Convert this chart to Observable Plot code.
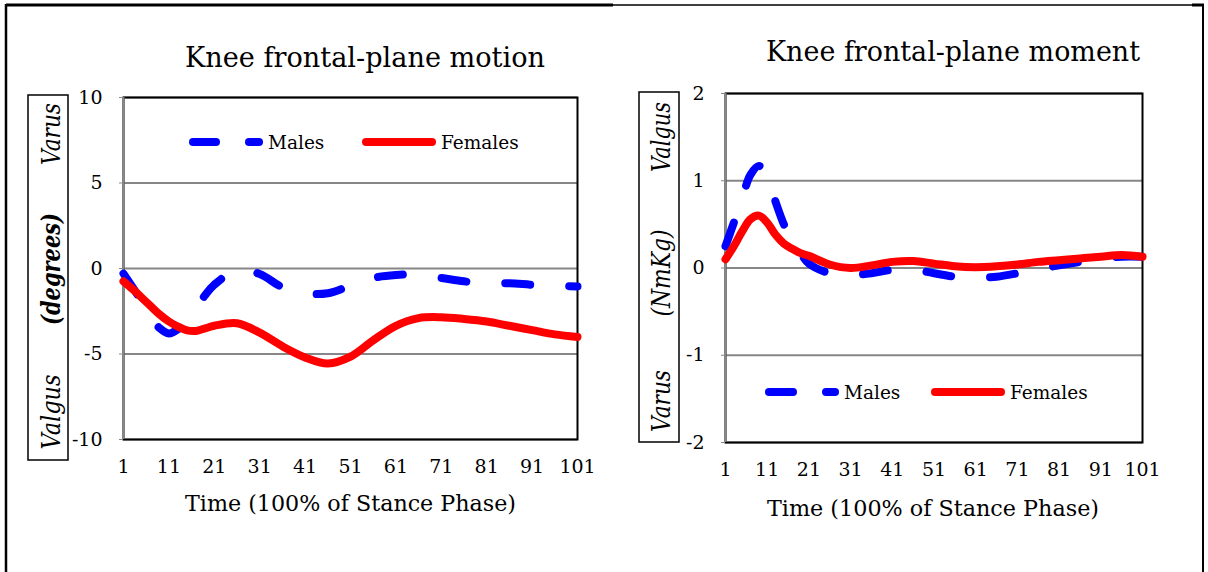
<!DOCTYPE html>
<html><head><meta charset="utf-8">
<script src="https://cdn.jsdelivr.net/npm/d3@7"></script>
<script src="https://cdn.jsdelivr.net/npm/@observablehq/plot@0.6"></script>
<style>
html,body{margin:0;padding:0;background:#fff;}
#wrap{position:relative;width:1208px;height:572px;overflow:hidden;background:#fff;}
#wrap svg{position:absolute;}
</style></head><body><div id="wrap"></div>
<script>
// ---- data ----
const stance = [1,3,5,7,9,11,13,15,17,19,21,26,31,36,41,46,51,56,61,66,71,76,81,86,91,96,101];
const motionMales   = [-0.3,-1.1,-1.9,-2.8,-3.5,-3.8,-3.55,-3.0,-2.3,-1.55,-0.95,-0.1,-0.32,-1.1,-1.45,-1.45,-1.0,-0.55,-0.38,-0.36,-0.55,-0.75,-0.88,-0.86,-0.95,-1.0,-1.05];
const motionFemales = [-0.75,-1.2,-1.7,-2.2,-2.7,-3.1,-3.4,-3.62,-3.65,-3.5,-3.35,-3.2,-3.75,-4.55,-5.2,-5.55,-5.15,-4.2,-3.35,-2.9,-2.85,-2.95,-3.1,-3.35,-3.6,-3.85,-4.0];
const momentMales   = [0.25,0.52,0.8,1.07,1.17,1.05,0.76,0.5,0.32,0.17,0.05,-0.06,-0.08,-0.06,-0.02,-0.02,-0.06,-0.1,-0.11,-0.1,-0.06,-0.01,0.03,0.07,0.11,0.13,0.13];
const momentFemales = [0.1,0.25,0.42,0.56,0.6,0.52,0.38,0.28,0.22,0.17,0.14,0.04,0.0,0.03,0.07,0.08,0.05,0.02,0.01,0.02,0.04,0.07,0.09,0.11,0.13,0.15,0.13];
const xTicks = [1,11,21,31,41,51,61,71,81,91,101];
const motionTicks = [-10,-5,0,5,10];
const momentTicks = [-2,-1,0,1,2];
const seriesNames = ["Males","Females"];
const seriesColors = ["#0000ff","#ff0000"];
const titles = ["Knee frontal-plane motion","Knee frontal-plane moment"];
const xTitle = "Time (100% of Stance Phase)";
const motionLabels = ["Varus","(degrees)","Valgus"];
const momentLabels = ["Valgus","(NmKg)","Varus"];

const FONT = "DejaVu Serif";
const wrap = document.getElementById("wrap");

function rows(vals){ return stance.map((t,i)=>({t, v: vals[i]})); }

function makePlot(o){
  const svg = Plot.plot({
    width: o.width, height: o.height,
    marginLeft: o.ml, marginTop: o.mt, marginRight: o.mr, marginBottom: o.mb,
    style: {fontFamily: FONT, fontSize: "19px", color: "#000", background: "transparent", overflow: "visible"},
    x: {domain: [xTicks[0], xTicks[xTicks.length-1]]},
    y: {domain: [o.ticks[0], o.ticks[o.ticks.length-1]]},
    marks: [
      Plot.ruleY(o.ticks, {stroke: "#878787", strokeWidth: 2}),
      Plot.frame({stroke: "#000", strokeWidth: 2}),
      Plot.ruleX([xTicks[0]], {stroke: "#878787", strokeWidth: 2}),
      Plot.axisX(xTicks, {tickSize: 0, tickPadding: 20, label: null, tickFormat: d => String(d)}),
      Plot.axisY(o.ticks, {tickSize: 4, tickPadding: 17, stroke: "#878787", label: null, tickFormat: d => String(d)}),
      Plot.line(rows(o.males), {x: "t", y: "v", stroke: seriesColors[0], strokeWidth: 8, curve: "catmull-rom",
        strokeLinecap: "round", strokeLinejoin: "round", strokeDasharray: "25,39"}),
      Plot.line(rows(o.females), {x: "t", y: "v", stroke: seriesColors[1], strokeWidth: 8, curve: "catmull-rom",
        strokeLinecap: "round", strokeLinejoin: "round"})
    ]
  });
  svg.style.left = o.left + "px";
  svg.style.top = o.top + "px";
  wrap.appendChild(svg);
}

// left: frame x 123..577, y 97..439
makePlot({males: motionMales, females: motionFemales, ticks: motionTicks,
  left: 0, top: 80, width: 597, height: 399, ml: 123, mt: 17, mr: 20, mb: 40});
// right: frame x 725..1142, y 93..442
makePlot({males: momentMales, females: momentFemales, ticks: momentTicks,
  left: 600, top: 76, width: 562, height: 406, ml: 125, mt: 17, mr: 20, mb: 40});

// ---- overlay: titles, axis titles, boxed y labels, legends, outer border ----
const ov = d3.select(wrap).append("svg").attr("width", 1208).attr("height", 572)
  .style("left","0px").style("top","0px").style("pointer-events","none")
  .attr("font-family", FONT);

// outer border
ov.append("line").attr("x1",6).attr("y1",5).attr("x2",613).attr("y2",5).attr("stroke","#000").attr("stroke-width",3);
ov.append("line").attr("x1",613).attr("y1",5).attr("x2",1203).attr("y2",5).attr("stroke","#000").attr("stroke-width",1.5);
ov.append("line").attr("x1",1192).attr("y1",5).attr("x2",1204).attr("y2",5).attr("stroke","#000").attr("stroke-width",3);
ov.append("line").attr("x1",6).attr("y1",4).attr("x2",6).attr("y2",572).attr("stroke","#000").attr("stroke-width",2.5);
ov.append("line").attr("x1",1203).attr("y1",4).attr("x2",1203).attr("y2",572).attr("stroke","#000").attr("stroke-width",2);

function txt(s, x, y, size, len, extra){
  const t = ov.append("text").attr("x", x).attr("y", y).attr("font-size", size)
    .attr("text-anchor","middle").attr("fill","#000").text(s);
  if (len) t.attr("textLength", len).attr("lengthAdjust","spacingAndGlyphs");
  if (extra) extra(t);
  return t;
}
// chart titles
txt(titles[0], 365, 67, 27, 360);
txt(titles[1], 953, 61, 27, 374);
// x-axis titles
txt(xTitle, 350.5, 511, 22, 331);
txt(xTitle, 933, 516, 22, 332);

// boxed rotated y labels
function yBox(x0, x1, y0, y1, labels, centers, lens, bx, boldMid){
  ov.append("rect").attr("x",x0).attr("y",y0).attr("width",x1-x0).attr("height",y1-y0)
    .attr("fill","none").attr("stroke","#000").attr("stroke-width",1.5);
  labels.forEach((s,i)=>{
    txt(s, bx, centers[i], 26, lens[i], t => {
      t.attr("transform", `rotate(-90,${bx},${centers[i]})`).attr("font-style","italic");
      if (i===1 && boldMid) t.attr("font-weight","bold");
    });
  });
}
yBox(28, 68, 95, 460, motionLabels, [134, 269, 412], [62, 112, 75], 60, true);
yBox(639, 679, 92, 442, momentLabels, [137, 273, 401], [70, 87, 62], 670, false);

// legends
function legend(y, blue1, blue2, maleX, red, femaleX){
  const seg = (a,b,c) => ov.append("line").attr("x1",a+4).attr("x2",b-4).attr("y1",y).attr("y2",y)
    .attr("stroke",c).attr("stroke-width",8).attr("stroke-linecap","round");
  seg(blue1[0], blue1[1], seriesColors[0]);
  seg(blue2[0], blue2[1], seriesColors[0]);
  seg(red[0], red[1], seriesColors[1]);
  ov.append("text").attr("x",maleX).attr("y",y+7).attr("font-size",18.5).attr("fill","#000").text(seriesNames[0]);
  ov.append("text").attr("x",femaleX).attr("y",y+7).attr("font-size",18.5).attr("fill","#000").text(seriesNames[1]);
}
legend(142, [189,220], [245,263], 268, [362,436], 441);
legend(392, [765,797], [822,839], 844, [931,1005], 1010);
</script></body></html>
